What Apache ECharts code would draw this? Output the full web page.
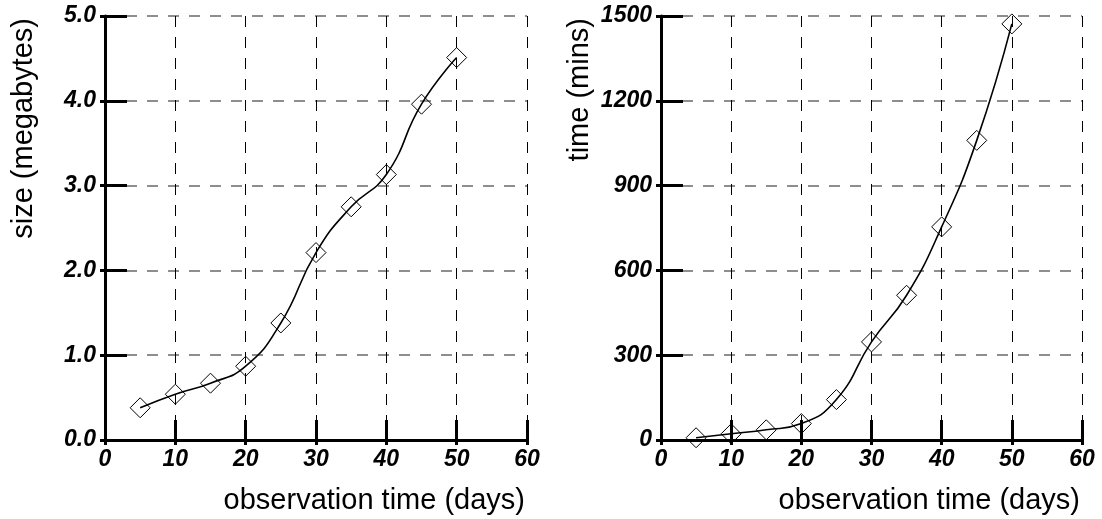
<!DOCTYPE html>
<html><head><meta charset="utf-8">
<script src="https://cdn.jsdelivr.net/npm/echarts@6/dist/echarts.min.js"></script>
<style>html,body{margin:0;padding:0;background:#fff}#c{width:1102px;height:519px}</style>
</head><body><div id="c"></div>
<script>
// ---- data ----
const days = [5, 10, 15, 20, 25, 30, 35, 40, 45, 50];
const sizeMB = [0.38, 0.54, 0.67, 0.87, 1.38, 2.21, 2.75, 3.13, 3.96, 4.51];
const timeMins = [8, 22, 36, 58, 143, 347, 512, 754, 1060, 1472];
const xTickRange = [0, 60, 10];      // min, max, step
const sizeTickRange = [0, 5, 1];
const timeTickRange = [0, 1500, 300];
const xTitle = 'observation time (days)';
const sizeTitle = 'size (megabytes)';
const timeTitle = 'time (mins)';

const FONT = 'Liberation Sans, Arial, sans-serif';
const tickLabel = {fontFamily: FONT, fontWeight: 'bold', fontStyle: 'italic', fontSize: 23, color: '#000'};

function mainX(gi) {
  return {
    type: 'value', gridIndex: gi, min: xTickRange[0], max: xTickRange[1], interval: xTickRange[2],
    name: xTitle, nameLocation: 'end', nameGap: -2, nameMoveOverlap: false,
    nameTextStyle: {fontFamily: FONT, fontSize: 29, color: '#000', align: 'right', verticalAlign: 'top', padding: [46, 0, 0, 0]},
    axisLine: {show: true, onZero: false, lineStyle: {color: '#000', width: 3}},
    axisTick: {show: true, inside: true, length: 20, lineStyle: {color: '#000', width: 3}},
    axisLabel: Object.assign({margin: 8}, tickLabel),
    splitLine: {show: true, lineStyle: {color: '#000', width: 1, type: [11, 10]}}
  };
}
function outerX(gi) {
  return {
    type: 'value', gridIndex: gi, position: 'bottom', min: xTickRange[0], max: xTickRange[1], interval: xTickRange[2],
    axisLine: {show: false}, axisLabel: {show: false}, splitLine: {show: false},
    axisTick: {show: true, inside: false, length: 5, lineStyle: {color: '#000', width: 3}}
  };
}
function mainY(gi, rng, title, fmt) {
  return {
    type: 'value', gridIndex: gi, min: rng[0], max: rng[1], interval: rng[2],
    name: title, nameLocation: 'end', nameRotate: 90, nameGap: -2, nameMoveOverlap: false,
    nameTextStyle: {fontFamily: FONT, fontSize: 29, color: '#000', align: 'right', verticalAlign: 'bottom', padding: [0, 0, 67, 0]},
    axisLine: {show: true, onZero: false, lineStyle: {color: '#000', width: 3}},
    axisTick: {show: true, inside: true, length: 22, lineStyle: {color: '#000', width: 3}},
    axisLabel: Object.assign({margin: 9, formatter: fmt}, tickLabel),
    splitLine: {show: true, lineStyle: {color: '#6a6a6a', width: 1.5, type: [11, 10]}}
  };
}
function outerY(gi, rng) {
  return {
    type: 'value', gridIndex: gi, position: 'left', min: rng[0], max: rng[1], interval: rng[2],
    axisLine: {show: false}, axisLabel: {show: false}, splitLine: {show: false},
    axisTick: {show: true, inside: false, length: 5, lineStyle: {color: '#000', width: 3}}
  };
}
function lineSeries(xi, values) {
  return {
    type: 'line', xAxisIndex: xi, yAxisIndex: xi,
    data: days.map((d, i) => [d, values[i]]),
    smooth: 0.5, symbol: 'diamond', symbolSize: 20, showAllSymbol: true,
    lineStyle: {color: '#000', width: 1.6},
    itemStyle: {color: 'rgba(255,255,255,0)', borderColor: '#000', borderWidth: 1},
    z: 3, animation: false
  };
}

const chart = echarts.init(document.getElementById('c'), null, {renderer: 'canvas'});
chart.setOption({
  animation: false,
  backgroundColor: '#fff',
  grid: [
    {left: 105, top: 16, width: 422, height: 424, containLabel: false},
    {left: 661, top: 16, width: 421, height: 424, containLabel: false}
  ],
  xAxis: [mainX(0), mainX(1), outerX(0), outerX(1)],
  yAxis: [
    mainY(0, sizeTickRange, sizeTitle, v => v.toFixed(1)),
    mainY(1, timeTickRange, timeTitle, v => String(v)),
    outerY(0, sizeTickRange), outerY(1, timeTickRange)
  ],
  series: [lineSeries(0, sizeMB), lineSeries(1, timeMins)]
});
</script></body></html>
